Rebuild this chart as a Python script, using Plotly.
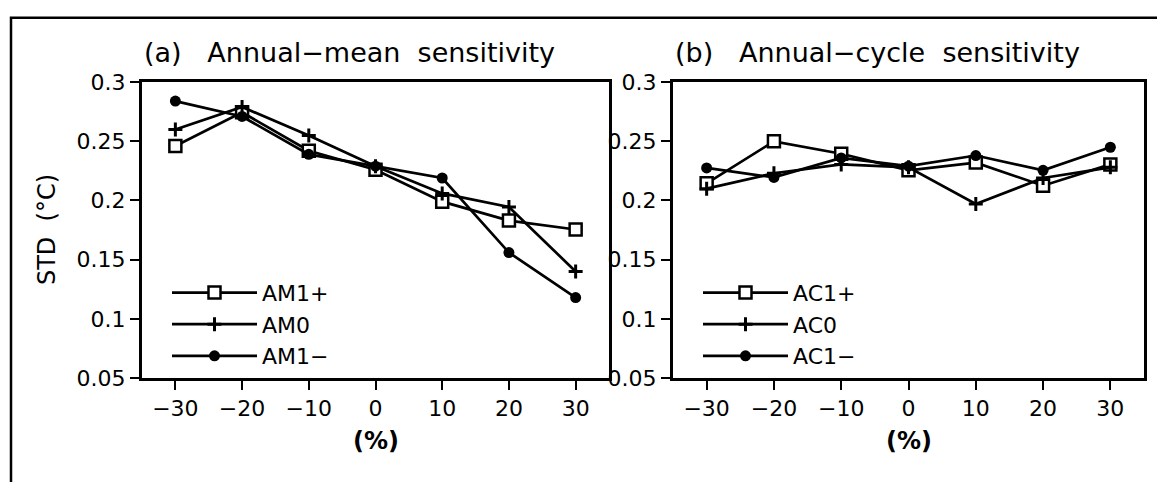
import plotly.graph_objects as go

# ---------------- data ----------------
pct = [-30, -20, -10, 0, 10, 20, 30]

am1_plus = [0.246, 0.2745, 0.242, 0.226, 0.199, 0.183, 0.1755]
am0 = [0.260, 0.279, 0.255, 0.229, 0.206, 0.1945, 0.140]
am1_minus = [0.284, 0.271, 0.239, 0.229, 0.219, 0.156, 0.118]

ac1_plus = [0.2145, 0.250, 0.2395, 0.2255, 0.232, 0.2125, 0.2305]
ac0 = [0.210, 0.223, 0.2305, 0.228, 0.197, 0.219, 0.228]
ac1_minus = [0.2275, 0.2195, 0.236, 0.229, 0.238, 0.2255, 0.245]

x_ticks = [-30, -20, -10, 0, 10, 20, 30]
y_ticks = [0.05, 0.1, 0.15, 0.2, 0.25, 0.3]

titles = ["(a)\u00a0\u00a0\u00a0Annual\u2212mean\u00a0\u00a0sensitivity",
          "(b)\u00a0\u00a0\u00a0Annual\u2212cycle\u00a0\u00a0sensitivity"]
ylabel = "STD\u00a0\u00a0(\u00b0C)"
xlabel = "(%)"

FONT = "DejaVu Sans"
W, H = 1157, 482

sq = dict(symbol="square", size=12, color="white", line=dict(color="black", width=2.5))
pl = dict(symbol="cross-thin", size=10, color="black", line=dict(color="black", width=3))
ci = dict(symbol="circle", size=11, color="black", line=dict(color="black", width=0))

fig = go.Figure()

series = [
    ("AM1+", am1_plus, sq, "x", "y", "legend"),
    ("AM0", am0, pl, "x", "y", "legend"),
    ("AM1\u2212", am1_minus, ci, "x", "y", "legend"),
    ("AC1+", ac1_plus, sq, "x2", "y2", "legend2"),
    ("AC0", ac0, pl, "x2", "y2", "legend2"),
    ("AC1\u2212", ac1_minus, ci, "x2", "y2", "legend2"),
]
for name, vals, mk, xa, ya, lg in series:
    fig.add_trace(go.Scatter(
        x=pct, y=vals, name=name, mode="lines+markers",
        line=dict(color="black", width=2.7), marker=mk,
        xaxis=xa, yaxis=ya, legend=lg, legendgroup=name,
    ))

ydom = [1 - 386 / H, 1 - 74 / H]
axis_common = dict(
    showline=True, mirror=True, linecolor="black", linewidth=3,
    ticks="outside", ticklen=9, tickwidth=2, tickcolor="black",
    showgrid=False, zeroline=False,
    tickfont=dict(family=FONT, size=22, color="black"),
)
leg_common = dict(xanchor="left", yanchor="top", bgcolor="rgba(0,0,0,0)",
                  itemwidth=85, tracegroupgap=0,
                  font=dict(family=FONT, size=22, color="black"))
fig.update_layout(
    width=W, height=H,
    margin=dict(l=0, r=0, t=0, b=0),
    paper_bgcolor="white", plot_bgcolor="white",
    xaxis=dict(domain=[142 / W, 609 / W], range=[-35, 35], tickvals=x_ticks,
               anchor="y", **axis_common),
    yaxis=dict(domain=ydom, range=[0.05, 0.3], tickvals=y_ticks, anchor="x",
               **axis_common),
    xaxis2=dict(domain=[673 / W, 1144 / W], range=[-35, 35], tickvals=x_ticks,
                anchor="y2", **axis_common),
    yaxis2=dict(domain=ydom, range=[0.05, 0.3], tickvals=y_ticks, anchor="x2",
                **axis_common),
    legend=dict(x=167 / W, y=1 - 274 / H, **leg_common),
    legend2=dict(x=698 / W, y=1 - 274 / H, **leg_common),
    showlegend=True,
)

# outer frame
fig.add_shape(type="rect", xref="paper", yref="paper",
              x0=11 / W, x1=1.02, y0=-0.05, y1=1 - 6 / H,
              line=dict(color="black", width=2.5), layer="below")

# panel titles and x labels
for i, t in enumerate(titles):
    xr = "x domain" if i == 0 else "x2 domain"
    fig.add_annotation(text=t, xref=xr, yref="paper", x=0, y=1 - 43 / H,
                       xanchor="left", yanchor="middle", showarrow=False,
                       font=dict(family=FONT, size=27, color="black"))
    fig.add_annotation(text="<b>" + xlabel + "</b>", xref=xr, yref="paper", x=0.5,
                       y=1 - 452 / H, xanchor="center", yanchor="middle",
                       showarrow=False,
                       font=dict(family=FONT, size=24, color="black"))

fig.add_annotation(text=ylabel, xref="paper", yref="paper", x=47 / W,
                   y=(ydom[0] + ydom[1]) / 2, textangle=-90,
                   xanchor="center", yanchor="middle", showarrow=False,
                   font=dict(family=FONT, size=24, color="black"))

fig.write_html(
    "out.html",
    config={"displayModeBar": False},
    post_script="document.body.style.margin='0';document.body.style.overflow='hidden';",
)
